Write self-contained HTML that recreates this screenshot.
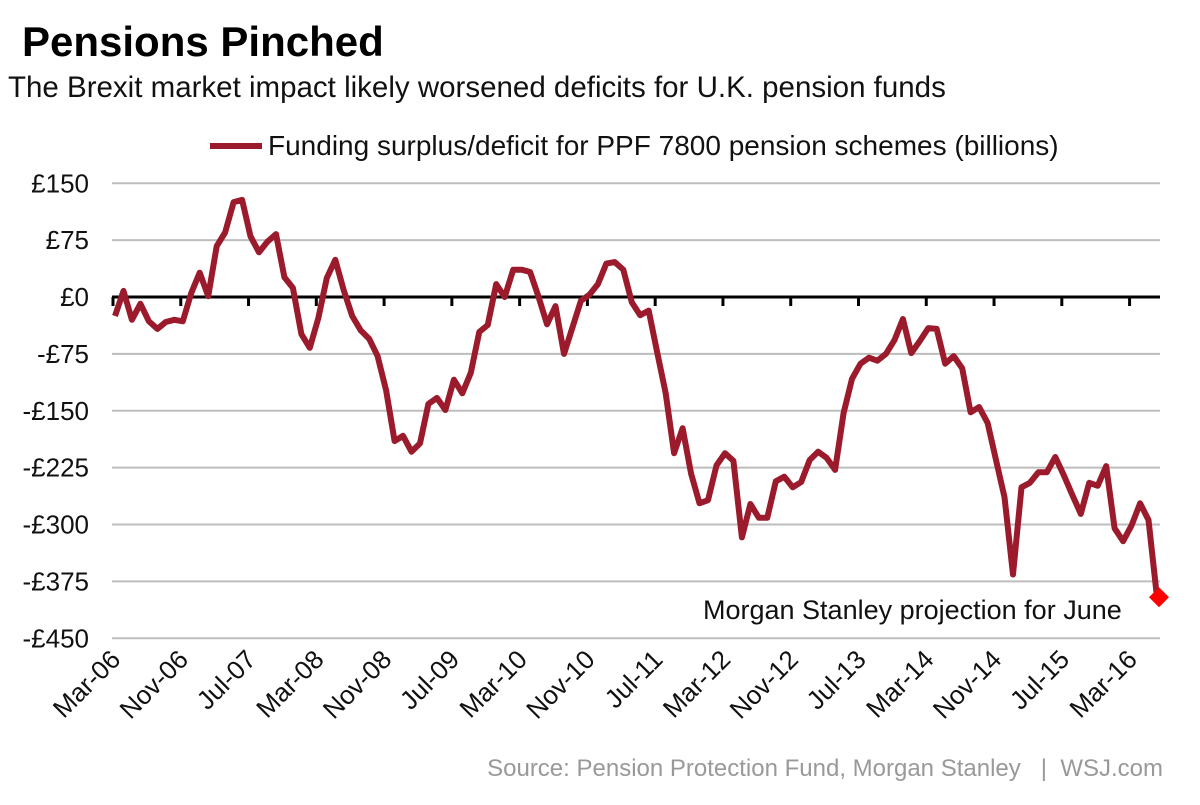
<!DOCTYPE html>
<html><head><meta charset="utf-8"><style>
body{margin:0;background:#fff;width:1200px;height:800px;overflow:hidden;font-family:"Liberation Sans",Arial,sans-serif}
</style></head><body>
<svg width="1200" height="800" font-family="Liberation Sans, Arial, sans-serif">
<text x="22" y="56" font-size="42" font-weight="bold" fill="#000">Pensions Pinched</text>
<text x="8" y="97" font-size="29.5" fill="#111">The Brexit market impact likely worsened deficits for U.K. pension funds</text>
<g>
<line x1="210" y1="146" x2="262" y2="146" stroke="#9b1b2c" stroke-width="6"/>
<text x="268" y="155" font-size="28" fill="#111">Funding surplus/deficit for PPF 7800 pension schemes (billions)</text>
</g>
<g id="grid"></g><g id="yl"></g><g id="xl"></g>
<path id="line" fill="none" stroke="#9b1b2c" stroke-width="6" stroke-linejoin="round"/>
<g id="pt"></g>
<text x="703" y="619" font-size="27" fill="#111" font-family="Liberation Sans, Carlito, sans-serif">Morgan Stanley projection for June</text>
<text x="1163" y="776" font-size="24" fill="#999" text-anchor="end" xml:space="preserve">Source: Pension Protection Fund, Morgan Stanley   |  WSJ.com</text>
</svg>
<script>
const yTicks=[150,75,0,-75,-150,-225,-300,-375,-450];
const yTickLabels=["£150","£75","£0","-£75","-£150","-£225","-£300","-£375","-£450"];
const xTickLabels=["Mar-06","Nov-06","Jul-07","Mar-08","Nov-08","Jul-09","Mar-10","Nov-10","Jul-11","Mar-12","Nov-12","Jul-13","Mar-14","Nov-14","Jul-15","Mar-16"];
const values=[-25,8,-30,-9,-32,-42,-33,-30,-32,5,32,1,67,85,125,128,80,59,73,83,26,12,-49,-67,-28,25,49,9,-25,-44,-55,-78,-123,-190,-183,-204,-193,-141,-133,-149,-109,-127,-100,-46,-37,17,0,36,36,33,0,-36,-12,-75,-40,-5,3,17,44,46,36,-7,-24,-18,-73,-127,-206,-173,-233,-272,-268,-222,-206,-216,-317,-273,-291,-291,-243,-237,-251,-244,-215,-204,-212,-228,-153,-108,-88,-80,-84,-75,-57,-29,-74,-58,-41,-42,-88,-78,-94,-152,-145,-166,-215,-264,-366,-251,-245,-231,-231,-211,-235,-261,-286,-245,-249,-223,-305,-322,-301,-272,-294,-396];
const NS="http://www.w3.org/2000/svg";
const y=v=>297-(v)*455/600;
const X0=115,X1=1157;
const x=i=>X0+i*(X1-X0)/(values.length-1);
const monthPx=(X1-X0)/(values.length-1);
function mk(t,a,p){const e=document.createElementNS(NS,t);for(const k in a)e.setAttribute(k,a[k]);p.appendChild(e);return e;}
const g=document.getElementById('grid'),yl=document.getElementById('yl'),xl=document.getElementById('xl');
yTicks.forEach((v,i)=>{
 if(v!==0){const l=mk('line',{x1:112,x2:1160,y1:y(v),y2:y(v),stroke:'#bdbdbd','stroke-width':2},g);
 
 }
 const t=mk('text',{x:89,y:y(v)+9,'font-size':26,'text-anchor':'end',fill:'#111'},yl);
 t.textContent=yTickLabels[i];
 
 
});
const z=mk('line',{x1:112,x2:1160,y1:y(0),y2:y(0),stroke:'#000','stroke-width':3},g);


xTickLabels.forEach((s,i)=>{
 const tx=X0-2+i*8*monthPx;
 const tk=mk('line',{x1:tx,x2:tx,y1:y(0),y2:y(0)+9,stroke:'#000','stroke-width':3},g);
 
 
 const t=mk('text',{x:tx+9,y:661,'font-size':26,'text-anchor':'end',fill:'#111',transform:`rotate(-45 ${tx+9} 661)`},xl);
 t.textContent=s;
 
 
});
document.getElementById('line').setAttribute('d',values.map((v,i)=>(i?'L':'M')+x(i).toFixed(1)+' '+y(v).toFixed(1)).join(''));
const n=values.length-1,px=x(n),py=y(values[n]);
const d=mk('path',{d:`M${px+2} ${py-10}L${px+12} ${py}L${px+2} ${py+10}L${px-8} ${py}Z`,fill:'#ff0000'},document.getElementById('pt'));


</script>
</body></html>
